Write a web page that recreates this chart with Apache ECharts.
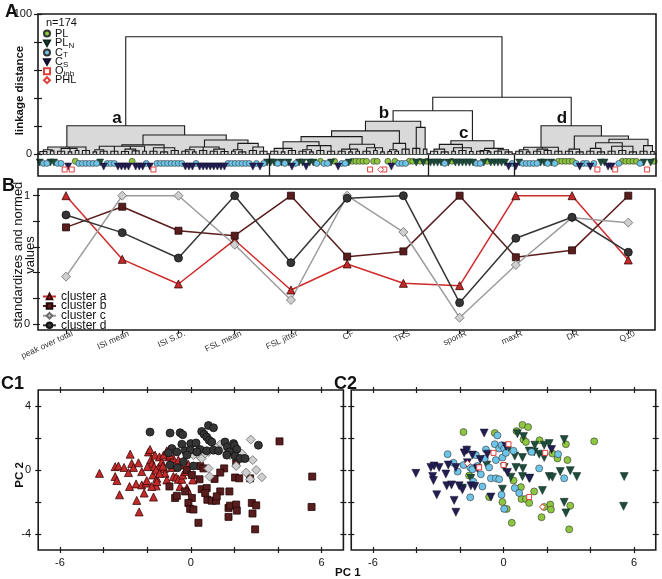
<!DOCTYPE html>
<html><head><meta charset="utf-8">
<script src="https://cdn.jsdelivr.net/npm/echarts@6/dist/echarts.min.js"></script>
<style>html,body{margin:0;padding:0;background:#fff}#c{width:662px;height:579px}</style>
</head><body><div id="c"></div>
<script>
// ---------------- DATA ----------------
// Panel A: dendrogram. Node = [height, child, child, ...]; leaf group = [height, leafCount]
const clusterA = [20.2,
  [5, [3,[1.8,3],[2.2,2]], [4,[2,3],[1.5,2],[2.5,2]], [2.5,3]],
  [13.6,
    [6.5, [5.5,[3,[1.5,2],[2,3]],[2,3],[3.5,[1.8,3],[2.2,3]],[2,2]], [4.5,[2,3],[1.5,3],[2.5,3]]],
    [10, [5,[3,[2,3],[1.5,2]],[2.5,3],[3.5,[2,3],[1.8,3]]], [7.6,[3,[2,2],[1.5,3]],[5,[2.5,3],[2,3]]]]
  ]
];
const clusterB = [23.4,
  [16.5,
    [12.4,
      [8.8,[4,[2,3],[1.5,2],[2.5,3]],[6,[3,[2,3],[1.5,2]],[2.5,3],[2,3]]],
      [7,[3.5,[2,3],[1.5,2],[2,2]],[4.5,[2,3],[2.5,2],[1.5,2]]]
    ],
    [7.6,[3,[1.8,2],[2,2]],[3.5,3]]
  ],
  [19,[4,3],[3.5,2]]
];
const clusterC = [9.5,
  [6.9,[3.5,[2,3],[1.5,3]],[4.5,[2,2],[2.5,3],[1.8,2]]],
  [4,[2.5,[2,3],[1.5,2]],[3,[2,3],[1.5,3]]]
];
const clusterD = [20.2,
  [4.8,[3,[2,3],[1.5,2]],[3.5,[2,3],[2.5,3]],[2,3]],
  [12.9,
    [3.5,[2,3],[1.5,3]],
    [10.5,[8,[4,[2,3],[1.5,3]],[5.5,[2,3],[2.5,3],[1.5,3]]],[6,[2,3],[1.8,2]]]
  ]
];
const topLinkage = [83.8, 'a', [40.5, [30.9, 'b', 'c'], 'd']];
// leaf classes, left to right (P=PL, N=PLN, T=CT, S=CS, O=Oinh, H=PHL)
const leafClassA = 'NTTNNTTOSOPTTTTTTNSTTTSSSSPSSSTSOTTTTTTTTSSSTSSSSSSSSTTTTTTTSTSTN';
const leafClassB = 'NNTNTNSTNNSNNTPTTNPSTTNPPPPPOPPHOPSPTTTPPNPNP';
const leafClassC = 'NNNNTNPNNNNNNTTNPNNNNNST';
const leafClassD = 'SNTTTTTNNTNTPPPPPTSTTSTONNSSOTPPPPPTNONP';
const classCodes = {P:'PL', N:'PLN', T:'CT', S:'CS', O:'Oinh', H:'PHL'};
const classNames = ['PL','PLN','CT','CS','Oinh','PHL'];
const linkageTicks = [0, 20, 40, 60, 80, 100];
const linkageLabels = [0, 100];

// Panel B
const metrics = ['peak over total','ISI mean','ISI S.D.','FSL mean','FSL jitter','CF','TRS','sponR','maxR','DR','Q10'];
const profileA = [1.0,0.504,0.312,0.655,0.265,0.468,0.317,0.299,1.0,1.0,0.499];
const profileB = [0.753,0.914,0.727,0.688,1.0,0.525,0.566,1.0,0.52,0.574,1.0];
const profileC = [0.369,1.0,1.0,0.618,0.187,1.0,0.717,0.049,0.46,0.829,0.79];
const profileD = [0.85,0.712,0.514,1.0,0.478,0.98,1.0,0.166,0.668,0.832,0.559];
const yTicksB = [0, 0.2, 0.4, 0.6, 0.8, 1];
const yLabelsB = [0, 1];

// Panel C ticks
const pc1Ticks = [-6, -4, -2, 0, 2, 4, 6];
const pc1Labels = [-6, 0, 6];
const pc2Ticks = [-4, -2, 0, 2, 4];
const pc2Labels = [-4, 0, 4];

// Panel C1 (PC1, PC2) by cluster
const c1ClusterA = [[-4.19,-0.21],[-3.47,0.21],[-3.32,0.25],[-3.47,-0.41],[-3.39,-0.66],[-3.27,-1.55],[-3.06,0.16],[-2.86,-0.16],[-2.78,0.99],[-2.71,0.41],[-2.63,0.16],[-2.81,-1.03],[-2.51,-0.87],[-2.48,-1.90],[-2.37,-2.62],[-2.40,0.45],[-2.25,-0.10],[-2.25,-0.93],[-2.05,-0.82],[-2.14,-1.44],[-2.02,-0.66],[-1.94,1.13],[-1.87,1.28],[-1.83,0.66],[-1.79,0.41],[-1.74,-0.31],[-1.71,-1.69],[-1.64,0.93],[-1.68,0.21],[-1.56,-0.52],[-1.59,-0.99],[-1.48,0.16],[-1.44,0.82],[-1.33,0.52],[-1.25,0.93],[-1.22,0.10],[-1.18,-0.21],[-1.10,1.20],[-1.02,0.82],[-0.87,0.16],[-0.80,-0.41],[-0.80,0.72],[-0.67,-0.45],[-0.57,-0.58],[-0.49,-1.03],[-0.41,-0.58],[-0.37,-0.31],[-0.31,0.62],[-0.24,-0.10],[-0.18,-1.13],[-0.11,0.35],[-0.15,-1.24],[0.09,-0.62],[-1.59,0.0],[-1.99,0.21],[-1.56,-0.72],[-1.79,-1.03],[-1.10,-0.62],[-0.95,0.93],[-1.28,0.25],[-1.44,-0.21],[-0.49,0.31],[-0.57,0.62]];
const c1ClusterB = [[4.07,1.79],[5.57,-0.41],[5.54,-2.31],[0.43,0.25],[0.58,0.10],[-0.18,0.0],[0.05,-0.31],[0.40,-0.58],[1.09,-0.56],[1.53,0.10],[1.35,-0.16],[2.03,-0.47],[2.22,-0.52],[2.08,0.41],[2.72,-0.52],[0.50,-1.20],[0.73,-1.13],[0.66,-1.44],[1.35,-1.34],[1.77,-1.34],[0.76,-1.86],[0.96,-1.92],[1.16,-1.92],[1.19,-1.65],[0.05,-1.75],[-0.11,-2.06],[-0.03,-2.43],[0.12,-2.47],[-0.98,-1.03],[-0.72,-1.75],[-0.64,-1.61],[0.35,-3.30],[1.73,-2.37],[1.80,-2.23],[2.08,-2.16],[2.11,-2.54],[1.73,-2.93],[2.80,-2.06],[3.00,-2.21],[2.83,-2.72],[2.95,-3.71],[-0.26,-1.34]];
const c1ClusterC = [[-0.18,1.44],[0.20,1.24],[0.43,0.82],[0.81,1.13],[0.81,0.10],[0.86,-0.41],[1.35,1.59],[1.80,1.34],[2.08,0.25],[2.34,1.03],[2.54,-0.16],[2.72,-0.58],[2.75,1.90],[2.84,0.62],[3.00,0.00],[3.26,-0.45],[0.50,0.72],[1.80,0.93],[1.12,1.44],[2.42,0.72],[1.50,1.34],[0.66,1.03],[1.96,1.13],[0.12,0.93]];
const c1ClusterD = [[-1.87,2.37],[-0.95,2.31],[-0.49,2.33],[-0.37,2.21],[0.50,2.41],[0.81,2.78],[1.04,2.64],[0.61,2.23],[0.73,2.06],[0.84,1.86],[0.96,1.75],[-0.41,1.61],[0.0,1.65],[0.24,1.69],[0.43,1.28],[-0.87,1.34],[-0.64,1.13],[-0.26,1.20],[-0.03,1.24],[0.28,1.13],[0.73,1.20],[1.04,1.24],[1.27,1.20],[1.57,1.75],[1.96,1.65],[1.68,1.44],[2.00,1.53],[1.77,1.13],[2.11,1.30],[1.65,0.93],[2.03,0.87],[2.26,0.72],[2.49,0.72],[3.10,1.55],[-0.34,0.52],[-0.95,0.31],[-0.61,0.14],[0.12,0.25],[-1.02,1.07],[-0.18,0.93]];

// Panel C2 (PC1, PC2) by cell class
const c2PL = [[-1.84,2.37],[-0.40,2.31],[0.60,2.43],[0.87,2.82],[1.13,2.68],[0.92,1.90],[1.03,1.75],[1.66,1.86],[2.87,1.61],[4.17,1.79],[2.94,0.62],[2.48,0.72],[2.25,1.03],[-1.58,-0.35],[-0.66,-1.69],[-0.05,-2.00],[0.15,-2.43],[0.38,-3.30],[0.80,-1.07],[0.83,-1.81],[1.03,-1.81],[1.18,-2.06],[1.41,-1.34],[1.87,-2.31],[1.75,-2.95],[2.15,-2.16],[2.18,-2.47],[3.07,-2.23],[3.02,-3.71],[0.46,-0.66]];
const c2PLN = [[0.64,2.27],[0.92,2.10],[1.44,1.55],[1.87,1.55],[2.10,1.65],[2.79,1.90],[1.18,1.18],[1.41,1.13],[1.64,0.99],[1.87,0.78],[0.18,1.20],[0.52,0.87],[0.87,0.78],[0.03,0.16],[0.57,0.16],[0.89,0.10],[0.34,-0.45],[0.87,-0.41],[1.21,-0.52],[2.10,-0.41],[2.25,-0.45],[2.61,-0.10],[3.07,-0.04],[3.37,-0.41],[5.55,-0.41],[5.52,-2.27],[2.79,-2.02],[2.87,-2.68],[1.79,-1.28],[-0.05,-1.20],[-1.50,-0.52],[-1.89,-1.13],[-0.77,0.31]];
const c2CT = [[-2.57,0.99],[-2.30,0.45],[-2.11,-0.10],[-1.84,0.31],[-1.69,1.28],[-1.53,0.16],[-1.43,0.04],[-1.39,-0.72],[-1.53,-1.71],[-1.27,0.93],[-1.20,0.25],[-1.04,-0.27],[-0.97,-1.03],[-0.86,0.72],[-0.81,1.28],[-0.66,0.16],[-0.58,-0.52],[-0.40,1.61],[-0.35,0.62],[-0.35,-0.52],[-0.28,2.16],[-0.20,1.34],[-0.09,1.55],[-0.05,0.78],[0.03,1.34],[0.11,1.07],[-0.20,-0.58],[-0.09,-1.55],[0.03,-2.43],[0.46,1.20],[0.52,-1.13],[0.72,-1.44],[1.29,1.13],[1.64,0.10],[2.51,0.99],[2.79,-0.52]];
const c2CS = [[-4.03,-0.21],[-3.34,0.16],[-3.19,0.25],[-2.96,0.16],[-3.26,-0.41],[-3.22,-0.66],[-3.07,-1.55],[-2.65,-0.25],[-2.54,0.31],[-2.61,-0.99],[-2.39,-0.93],[-2.27,-1.90],[-2.19,-2.64],[-2.04,-0.99],[-1.89,-1.24],[-1.81,1.07],[-1.69,1.24],[-1.66,0.45],[-1.43,0.93],[-1.50,-0.99],[-1.32,-1.03],[-1.07,0.66],[-0.89,2.31],[-0.74,0.99],[-1.20,0.10],[-0.58,-1.69],[0.18,-0.16],[0.11,1.48],[1.18,-0.52],[2.21,1.28],[-2.19,0.16]];
const c2Oinh = [[0.23,1.61],[-0.46,1.07],[-1.12,0.16],[0.0,0.31],[1.18,-1.69],[1.92,1.07]];
const c2PHL = [[-1.66,0.41],[1.79,-2.31]];

// ---------------- BUILD ----------------
const clusters = {a: clusterA, b: clusterB, c: clusterC, d: clusterD};
const dendroNodes = [];
let leafCursor = 0;
function layout(node, fill) {
  if (typeof node === 'string') { const r = layout(clusters[node], true); r.label = node; return r; }
  const h = node[0];
  let item;
  if (typeof node[1] === 'number') {
    const xs = []; for (let i = 0; i < node[1]; i++) xs.push(leafCursor++);
    item = {h, fill, kids: xs.map(x => ({x, h: 0})), x: (xs[0] + xs[xs.length - 1]) / 2};
  } else {
    const kids = node.slice(1).map(c => layout(c, fill));
    item = {h, fill, kids: kids.map(k => ({x: k.x, h: k.h})), x: (kids[0].x + kids[kids.length - 1].x) / 2};
  }
  dendroNodes.push(item);
  return item;
}
layout(topLinkage, false);
const nLeaves = leafCursor;
const leafClass = (leafClassA + leafClassB + leafClassC + leafClassD).split('');
const boundaries = [];
let acc = 0;
[leafClassA, leafClassB, leafClassC].forEach(s => { acc += s.length; boundaries.push(acc - 0.5); });

const dendroData = dendroNodes.map((n, i) => [n.x, n.h, i]);
const lineStyleD = {stroke: '#1a1a1a', lineWidth: 1.1, fill: 'none'};
function renderFill(params, api) {
  const n = dendroNodes[api.value(2)];
  if (!n.fill) return null;
  const k0 = n.kids[0], kl = n.kids[n.kids.length - 1];
  const p0 = api.coord([k0.x, 0]), p1 = api.coord([kl.x, n.h]);
  return {type: 'rect', shape: {x: p0[0], y: p1[1], width: p1[0] - p0[0], height: p0[1] - p1[1]}, style: {fill: '#d9d9d9'}};
}
function renderLinks(params, api) {
  const n = dendroNodes[api.value(2)];
  const k0 = n.kids[0], kl = n.kids[n.kids.length - 1];
  const children = [{type: 'polyline', shape: {points: [api.coord([k0.x, k0.h]), api.coord([k0.x, n.h]), api.coord([kl.x, n.h]), api.coord([kl.x, kl.h])]}, style: lineStyleD}];
  for (let j = 1; j < n.kids.length - 1; j++) {
    const k = n.kids[j]; const a = api.coord([k.x, k.h]), b = api.coord([k.x, n.h]);
    children.push({type: 'line', shape: {x1: a[0], y1: a[1], x2: b[0], y2: b[1]}, style: lineStyleD});
  }
  if (n.label) {
    const p = api.coord([n.x, n.h]);
    children.push({type: 'text', x: p[0] - 4, y: p[1] + 1, style: {text: n.label, font: 'bold 17px "Liberation Sans"', fill: '#111', textAlign: 'right', textVerticalAlign: 'bottom'}});
  }
  return {type: 'group', children};
}

const FONT = '"Liberation Sans", Arial, sans-serif';
const INV_TRI = 'path://M0,0 L10,0 L5,9 Z';
const classStyle = {
  PL:   {symbol: 'circle',   rotate: 0,   size: 6, c2size: 7, color: '#8dc63f', border: '#333', bw: 0.6, row: 0.70},
  PLN:  {symbol: 'triangle', rotate: 180, size: 7, c2size: 8, color: '#1d4c3b', border: '#0c261c', bw: 0.5, row: 0.64, icon: INV_TRI},
  CT:   {symbol: 'circle',   rotate: 0,   size: 6, c2size: 7, color: '#6ec5ea', border: '#333', bw: 0.6, row: 0.60},
  CS:   {symbol: 'triangle', rotate: 180, size: 7, c2size: 8, color: '#231e52', border: '#0e0b2a', bw: 0.5, row: 0.45, icon: INV_TRI},
  Oinh: {symbol: 'rect',     rotate: 0,   size: 5, c2size: 5, color: '#ffffff', border: '#e0403c', bw: 1, row: 0.31},
  PHL:  {symbol: 'diamond',  rotate: 0,   size: 6, c2size: 6, color: '#ffffff', border: '#e0403c', bw: 1, row: 0.31}
};
const legendLabel = {PL: 'PL', PLN: 'PL{s|N}', CT: 'C{s|T}', CS: 'C{s|S}', Oinh: 'O{s|inh}', PHL: 'PHL'};

// ---- axes ----
const labelStyle = {color: '#111', fontSize: 11, fontFamily: FONT};
const xAxis = [], yAxis = [];
function add(list, cfg) { list.push(cfg); return list.length - 1; }
function tickAxis(gridIndex, position, min, max, ticks, len, inside, label) {
  return {gridIndex, type: 'value', position, min, max, offset: 0,
    axisLine: {show: false, onZero: false}, splitLine: {show: false},
    axisTick: {show: true, inside, length: len, customValues: ticks, lineStyle: {color: '#1a1a1a', width: 1.2}},
    axisLabel: label ? Object.assign({show: true}, labelStyle, label) : {show: false}};
}
// A
const xDendro = add(xAxis, {gridIndex: 0, type: 'value', min: -0.5, max: nLeaves - 0.5, axisLine: {show: true, onZero: false, lineStyle: {color: '#1a1a1a', width: 1.5}}, axisTick: {show: false}, axisLabel: {show: false}, splitLine: {show: false}});
const yDendro = add(yAxis, tickAxis(0, 'left', 0, 100, linkageTicks, 4, false, {customValues: linkageLabels, margin: 6, formatter: v => String(v)}));
add(yAxis, tickAxis(0, 'left', 0, 100, linkageTicks, 4, true, null));
const xStrip = add(xAxis, {gridIndex: 1, type: 'value', min: -0.5, max: nLeaves - 0.5, show: false});
const yStrip = add(yAxis, {gridIndex: 1, type: 'value', min: 0, max: 1, show: false});
// B (grid = frame)
const xB = add(xAxis, tickAxis(2, 'bottom', -0.498, 10.475, metrics.map((m, i) => i), 4, false,
  {customValues: metrics.map((m, i) => i), formatter: v => metrics[v], rotate: 25, fontSize: 8.5, color: '#333', margin: 6, padding: [0, -7, 0, 0]}));
const yB = add(yAxis, tickAxis(2, 'left', -0.0468, 1.0522, yTicksB, 5, false, {customValues: yLabelsB, margin: 8, formatter: v => String(v)}));
add(yAxis, tickAxis(2, 'left', -0.0468, 1.0522, yTicksB, 2, true, null));
// C1, C2 (grid = frame, ticks crossing on all four sides)
function cAxes(gridIndex, yLabels) {
  const xi = add(xAxis, tickAxis(gridIndex, 'bottom', -7, 7, pc1Ticks, 3, false, {customValues: pc1Labels, margin: 7, formatter: v => String(v)}));
  add(xAxis, tickAxis(gridIndex, 'bottom', -7, 7, pc1Ticks, 3, true, null));
  add(xAxis, tickAxis(gridIndex, 'top', -7, 7, pc1Ticks, 3, false, null));
  add(xAxis, tickAxis(gridIndex, 'top', -7, 7, pc1Ticks, 3, true, null));
  const yi = add(yAxis, tickAxis(gridIndex, 'left', -5, 5, pc2Ticks, 3, false, yLabels ? {customValues: pc2Labels, margin: 7, formatter: v => String(v)} : null));
  add(yAxis, tickAxis(gridIndex, 'left', -5, 5, pc2Ticks, 3, true, null));
  add(yAxis, tickAxis(gridIndex, 'right', -5, 5, pc2Ticks, 3, false, null));
  add(yAxis, tickAxis(gridIndex, 'right', -5, 5, pc2Ticks, 3, true, null));
  return [xi, yi];
}
const [xC1, yC1] = cAxes(3, true);
const [xC2, yC2] = cAxes(4, false);

const grid = [
  {left: 38, width: 618, top: 14, height: 140},
  {left: 38, width: 618, top: 155, height: 21},
  {left: 38, width: 617, top: 189, height: 141},
  {left: 38.2, width: 305.2, top: 390, height: 160},
  {left: 351.25, width: 304.5, top: 390, height: 160}
].map(g => Object.assign({containLabel: false, show: false}, g));

// ---- series ----
const series = [];
series.push({type: 'custom', xAxisIndex: xDendro, yAxisIndex: yDendro, renderItem: renderFill, data: dendroData, encode: {x: 0, y: 1}, z: 1, silent: true});
series.push({type: 'custom', xAxisIndex: xDendro, yAxisIndex: yDendro, renderItem: renderLinks, data: dendroData, encode: {x: 0, y: 1}, z: 2, silent: true});
classNames.forEach((cn, ci) => {
  const st = classStyle[cn];
  const data = [];
  leafClass.forEach((code, i) => { if (classCodes[code] === cn) data.push([i, st.row]); });
  const s = {type: 'scatter', name: cn, xAxisIndex: xStrip, yAxisIndex: yStrip, data, symbol: st.symbol, symbolRotate: st.rotate, symbolSize: st.size,
    itemStyle: {color: st.color, borderColor: st.border, borderWidth: st.bw, opacity: 1}, silent: true, z: 3};
  if (ci === 0) s.markLine = {symbol: 'none', silent: true, label: {show: false}, lineStyle: {color: '#1a1a1a', width: 1.3, type: 'solid'}, data: boundaries.map(b => ({xAxis: b}))};
  series.push(s);
});
const clusterStyle = {
  'cluster a': {profile: profileA, pts: c1ClusterA, symbol: 'triangle', size: 8, c1size: 8, line: '#d02a2a', color: '#c42a2a', border: '#3a0808'},
  'cluster b': {profile: profileB, pts: c1ClusterB, symbol: 'rect', size: 7, c1size: 7, line: '#5a1c1c', color: '#5a1d1d', border: '#220606'},
  'cluster c': {profile: profileC, pts: c1ClusterC, symbol: 'diamond', size: 9, c1size: 9, line: '#9c9c9c', color: '#cfcfcf', border: '#6a6a6a'},
  'cluster d': {profile: profileD, pts: c1ClusterD, symbol: 'circle', size: 8, c1size: 8, line: '#353535', color: '#353535', border: '#111'}
};
Object.keys(clusterStyle).forEach(name => {
  const st = clusterStyle[name];
  series.push({type: 'line', name, xAxisIndex: xB, yAxisIndex: yB, data: st.profile.map((v, i) => [i, v]), symbol: st.symbol, symbolSize: st.size, showSymbol: true,
    lineStyle: {color: st.line, width: 1.5}, itemStyle: {color: st.color, borderColor: st.border, borderWidth: 0.8}, silent: true, z: 3});
});
Object.keys(clusterStyle).forEach(name => {
  const st = clusterStyle[name];
  series.push({type: 'scatter', name, xAxisIndex: xC1, yAxisIndex: yC1, data: st.pts, symbol: st.symbol, symbolSize: st.c1size,
    itemStyle: {color: st.color, borderColor: st.border, borderWidth: 0.8, opacity: 1}, silent: true, z: 3});
});
const c2Data = {PL: c2PL, PLN: c2PLN, CT: c2CT, CS: c2CS, Oinh: c2Oinh, PHL: c2PHL};
classNames.forEach(cn => {
  const st = classStyle[cn];
  series.push({type: 'scatter', name: cn, xAxisIndex: xC2, yAxisIndex: yC2, data: c2Data[cn], symbol: st.symbol, symbolRotate: st.rotate, symbolSize: st.c2size,
    itemStyle: {color: st.color, borderColor: st.border, borderWidth: st.bw, opacity: 1}, silent: true, z: 3});
});

// legends (one component per item for exact spacing)
const legends = [];
const aLegendTops = [27.5, 36.8, 46, 55.4, 64.8, 74.2];
classNames.forEach((cn, i) => {
  const st = classStyle[cn];
  const item = st.icon ? {name: cn, icon: st.icon} : {name: cn};
  legends.push({data: [item], left: 43, top: aLegendTops[i], padding: 0, itemWidth: 6, itemHeight: 6, itemGap: 0, selectedMode: false,
    formatter: () => legendLabel[cn], textStyle: {fontSize: 11, color: '#111', fontFamily: FONT, lineHeight: 12, rich: {s: {fontSize: 8, fontFamily: FONT, color: '#111', padding: [5, 0, 0, 0], lineHeight: 12}}}});
});
const bLegendTops = [290.5, 300, 309.7, 319.3];
Object.keys(clusterStyle).forEach((name, i) => legends.push({data: [name], left: 42, top: bLegendTops[i], padding: 0, itemWidth: 13, itemHeight: 7, selectedMode: false,
  textStyle: {fontSize: 12, color: '#111', fontFamily: FONT, lineHeight: 12}}));

function frame(x, y, w, h) { return {type: 'rect', shape: {x, y, width: w, height: h}, style: {fill: 'none', stroke: '#1a1a1a', lineWidth: 1.6}, silent: true, z: 10}; }
function txt(x, y, text, font, opts) { return Object.assign({type: 'text', x, y, silent: true, z: 10, style: Object.assign({text, font, fill: '#111', textAlign: 'left', textVerticalAlign: 'top'}, (opts && opts.style) || {})}, opts && opts.rotation ? {rotation: opts.rotation} : {}); }
const graphic = [
  frame(38, 14, 618, 162),
  frame(38, 189, 617, 141),
  frame(38.2, 390, 305.2, 160),
  frame(351.25, 390, 304.5, 160),
  txt(5, 3, 'A', 'bold 18px ' + FONT),
  txt(2, 177, 'B', 'bold 18px ' + FONT),
  txt(1, 375, 'C1', 'bold 18px ' + FONT),
  txt(334, 375, 'C2', 'bold 18px ' + FONT),
  txt(46, 17.5, 'n=174', '11px ' + FONT),
  txt(19.5, 90.5, 'linkage distance', 'bold 11.5px ' + FONT, {rotation: Math.PI / 2, style: {textAlign: 'center', textVerticalAlign: 'middle'}}),
  txt(24, 255, 'standardizes and normed\nvalues', '13px ' + FONT, {rotation: Math.PI / 2, style: {textAlign: 'center', textVerticalAlign: 'middle', lineHeight: 12}}),
  txt(19.5, 475, 'PC 2', 'bold 11.5px ' + FONT, {rotation: Math.PI / 2, style: {textAlign: 'center', textVerticalAlign: 'middle'}}),
  txt(335, 567, 'PC 1', 'bold 11.5px ' + FONT)
];

const chart = echarts.init(document.getElementById('c'), null, {renderer: 'canvas'});
chart.setOption({
  animation: false,
  backgroundColor: '#fff',
  textStyle: {fontFamily: FONT},
  grid, xAxis, yAxis, series, legend: legends, graphic
});
</script></body></html>
